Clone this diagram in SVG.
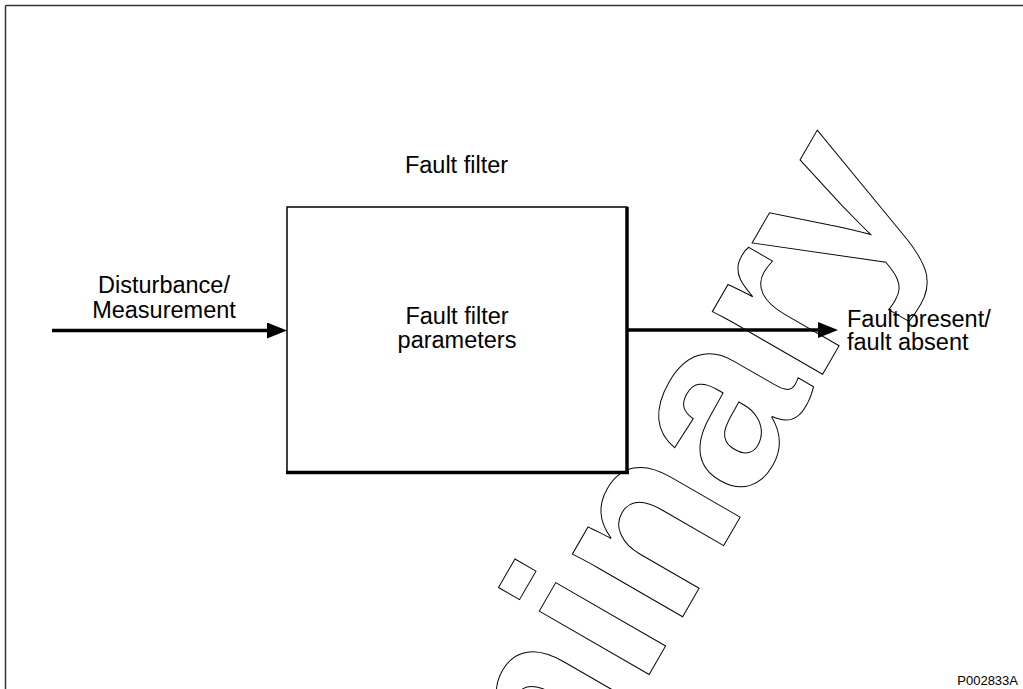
<svg xmlns="http://www.w3.org/2000/svg" width="1023" height="689" viewBox="0 0 1023 689">
  <style>
    .lbl { font-family: "Liberation Sans", Arial, sans-serif; font-size: 23.5px; fill: #000; }
    .ref { font-family: "Liberation Sans", Arial, sans-serif; font-size: 13px; fill: #000; }
    .wm { font-family: "Liberation Sans", Arial, sans-serif; font-weight: bold; font-size: 240px; fill: none; stroke: #000; stroke-width: 1; }
    .conn { stroke: #000; stroke-width: 3.5; fill: none; }
  </style>
  <defs>
    <marker id="arrow" markerUnits="userSpaceOnUse" markerWidth="20" markerHeight="16" refX="1" refY="8" orient="auto">
      <path d="M0,0 L20,8 L0,16 z" fill="#000"/>
    </marker>
  </defs>
  <rect x="0" y="0" width="1023" height="689" fill="#fff"/>
  <g id="frame">
    <line x1="5.5" y1="5.5" x2="1023" y2="5.5" stroke="#333" stroke-width="1.5"/>
    <line x1="5.5" y1="5.5" x2="5.5" y2="689" stroke="#333" stroke-width="1.5"/>
  </g>
  <g id="watermark">
    <text class="wm" transform="translate(274,1324.5) rotate(-60)">Preliminary</text>
  </g>
  <g id="fault-filter">
    <text class="lbl" x="456.5" y="173" text-anchor="middle">Fault filter</text>
    <rect x="287" y="207" width="340" height="265" fill="#fff" stroke="#000" stroke-width="1.5"/>
    <line x1="627" y1="207" x2="627" y2="474" stroke="#000" stroke-width="3.5"/>
    <line x1="286" y1="472.5" x2="629" y2="472.5" stroke="#000" stroke-width="3.5"/>
    <text class="lbl" x="457" y="324" text-anchor="middle">Fault filter</text>
    <text class="lbl" x="457" y="348" text-anchor="middle">parameters</text>
  </g>
  <g id="connectors">
    <line class="conn" x1="52" y1="330.5" x2="268" y2="330.5" marker-end="url(#arrow)"/>
    <line class="conn" x1="628" y1="330" x2="819" y2="330" marker-end="url(#arrow)"/>
  </g>
  <g id="input-label">
    <text class="lbl" x="164" y="293" text-anchor="middle">Disturbance/</text>
    <text class="lbl" x="164" y="318" text-anchor="middle">Measurement</text>
  </g>
  <g id="output-label">
    <text class="lbl" x="847" y="327">Fault present/</text>
    <text class="lbl" x="847" y="350">fault absent</text>
  </g>
  <g id="figure-ref">
    <text class="ref" x="1018" y="685" text-anchor="end">P002833A</text>
  </g>
</svg>
